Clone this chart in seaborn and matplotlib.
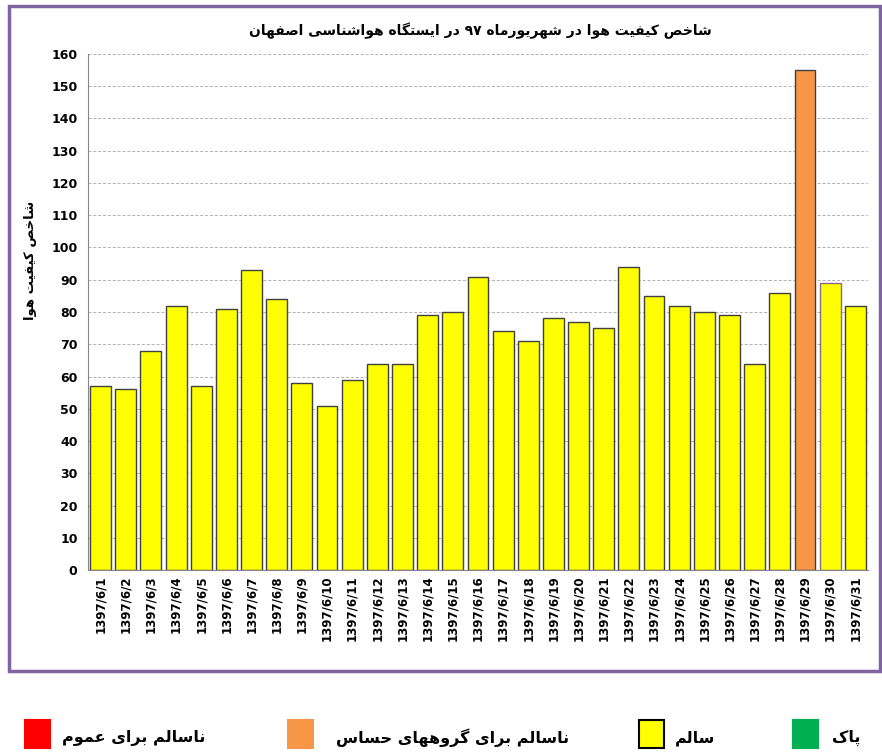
import seaborn as sns
import matplotlib.pyplot as plt
import pandas as pd
from matplotlib.patches import Rectangle

# values
dates = ["1397/6/%d" % d for d in range(1, 32)]
aqi = [57, 56, 68, 82, 57, 81, 93, 84, 58, 51, 59, 64, 64, 79, 80, 91,
       74, 71, 78, 77, 75, 94, 85, 82, 80, 79, 64, 86, 155, 89, 82]
status = ["سالم"] * 28 + ["ناسالم برای گروههای حساس"] + ["سالم"] * 2

title = "شاخص کیفیت هوا در شهریورماه ۹۷ در ایستگاه هواشناسی اصفهان"
ylabel = "شاخص کیفیت هوا"
legend_labels = ["ناسالم برای عموم", "ناسالم برای گروههای حساس", "سالم", "پاک"]
legend_colors = ["#ff0000", "#f79646", "#ffff00", "#00b050"]

# matplotlib has no arabic shaping, so pick presentation forms by hand
FORMS = {
    'ا': ('\uFE8D', '\uFE8E'),
    'ب': ('\uFE8F', '\uFE90', '\uFE91', '\uFE92'),
    'پ': ('\uFB56', '\uFB57', '\uFB58', '\uFB59'),
    'ت': ('\uFE95', '\uFE96', '\uFE97', '\uFE98'),
    'ح': ('\uFEA1', '\uFEA2', '\uFEA3', '\uFEA4'),
    'خ': ('\uFEA5', '\uFEA6', '\uFEA7', '\uFEA8'),
    'د': ('\uFEA9', '\uFEAA'),
    'ر': ('\uFEAD', '\uFEAE'),
    'س': ('\uFEB1', '\uFEB2', '\uFEB3', '\uFEB4'),
    'ش': ('\uFEB5', '\uFEB6', '\uFEB7', '\uFEB8'),
    'ص': ('\uFEB9', '\uFEBA', '\uFEBB', '\uFEBC'),
    'ع': ('\uFEC9', '\uFECA', '\uFECB', '\uFECC'),
    'ف': ('\uFED1', '\uFED2', '\uFED3', '\uFED4'),
    'ک': ('\uFB8E', '\uFB8F', '\uFB90', '\uFB91'),
    'ك': ('\uFB8E', '\uFB8F', '\uFB90', '\uFB91'),
    'گ': ('\uFB92', '\uFB93', '\uFB94', '\uFB95'),
    'ل': ('\uFEDD', '\uFEDE', '\uFEDF', '\uFEE0'),
    'م': ('\uFEE1', '\uFEE2', '\uFEE3', '\uFEE4'),
    'ن': ('\uFEE5', '\uFEE6', '\uFEE7', '\uFEE8'),
    'ه': ('\uFEE9', '\uFEEA', '\uFEEB', '\uFEEC'),
    'و': ('\uFEED', '\uFEEE'),
    'ی': ('\uFBFC', '\uFBFD', '\uFBFE', '\uFBFF'),
    'ي': ('\uFBFC', '\uFBFD', '\uFBFE', '\uFBFF'),
}


def fa(text):
    out = []
    for i, ch in enumerate(text):
        f = FORMS.get(ch)
        if f is None:
            out.append(ch)
            continue
        prev = FORMS.get(text[i - 1]) if i > 0 else None
        nxt = FORMS.get(text[i + 1]) if i + 1 < len(text) else None
        join_prev = prev is not None and len(prev) == 4
        join_next = len(f) == 4 and nxt is not None
        if join_prev and join_next:
            out.append(f[3])
        elif join_prev:
            out.append(f[1])
        elif join_next:
            out.append(f[2])
        else:
            out.append(f[0])
    # right to left, but digit runs keep their order
    res, run = [], ""
    for ch in reversed(out):
        if ch.isdigit():
            run = ch + run
        else:
            res.append(run)
            run = ""
            res.append(ch)
    res.append(run)
    return "".join(res)


df = pd.DataFrame({"date": dates, "aqi": aqi, "status": status})

sns.set_style("white")
plt.rcParams["font.family"] = ["DejaVu Sans"]
plt.rcParams["text.color"] = "black"
plt.rcParams["xtick.color"] = "black"
plt.rcParams["ytick.color"] = "black"

fig = plt.figure(figsize=(8.82, 7.56), dpi=100)
ax = fig.add_axes([0.0998, 0.246, 0.8842, 0.6826])

sns.barplot(data=df, x="date", y="aqi", hue="status", dodge=False, legend=False,
            palette={"سالم": "#ffff00", "ناسالم برای گروههای حساس": "#f79646"},
            saturation=1, width=0.83, linewidth=1.0, ax=ax)
for p, s in zip(ax.patches, status):
    p.set_edgecolor("#8a6a8a" if s != "سالم" else "#404040")

ax.set_ylim(0, 160)
ax.set_xlim(-0.5, 30.5)
ax.set_yticks(range(0, 161, 10))
ax.yaxis.grid(True, linestyle=(0, (3, 2)), color="#b0b0b0", linewidth=0.7)
ax.set_axisbelow(True)
for s in ["top", "right"]:
    ax.spines[s].set_visible(False)
for s in ["left", "bottom"]:
    ax.spines[s].set_color("#868686")
ax.tick_params(axis="y", length=4, color="#868686", labelsize=9)
ax.set_xticks(range(31))
ax.set_xticklabels(dates)
ax.tick_params(axis="x", length=0, labelsize=8.5, rotation=90, pad=4)
ax.set_xticks([x - 0.5 for x in range(0, 32, 2)], minor=True)
ax.tick_params(axis="x", which="minor", length=4, color="#868686")
for lab in ax.get_xticklabels() + ax.get_yticklabels():
    lab.set_fontweight("bold")
ax.set_xlabel("")
ax.set_ylabel("")

fig.text(0.545, 0.960, fa(title), ha="center", va="center", fontsize=10, fontweight="bold")
fig.text(0.035, 0.655, fa(ylabel), ha="center", va="center", rotation=90,
         fontsize=9.5, fontweight="bold")

# purple frame around the chart
fig.add_artist(Rectangle((0.0102, 0.1124), 0.9875, 0.8796, transform=fig.transFigure,
                         fill=False, edgecolor="#8064a2", linewidth=2.5))

# legend along the bottom
box_x = [0.028, 0.326, 0.724, 0.899]
text_x = [0.233, 0.645, 0.811, 0.976]
for bx, tx, c, lab in zip(box_x, text_x, legend_colors, legend_labels):
    fig.add_artist(Rectangle((bx, 0.011), 0.029, 0.036, transform=fig.transFigure,
                             facecolor=c, edgecolor="black" if c == "#ffff00" else c,
                             linewidth=1.5))
    fig.text(tx, 0.024, fa(lab), ha="right", va="center", fontsize=11.5, fontweight="bold")

plt.savefig("out.png", dpi=100)
